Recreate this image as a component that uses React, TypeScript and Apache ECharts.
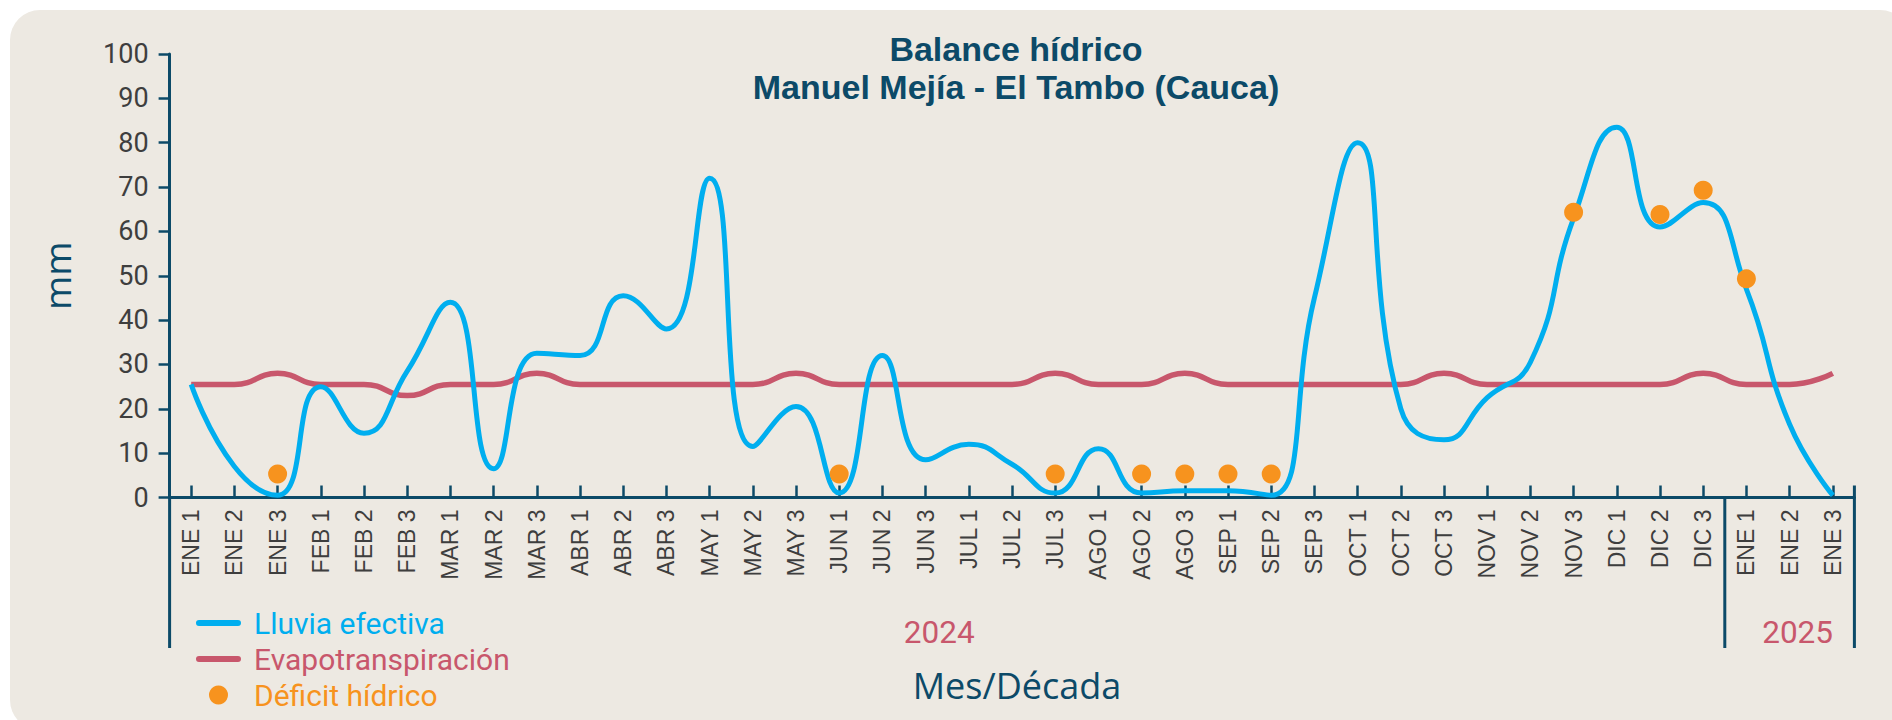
import React, { useEffect, useRef } from "react";
import * as echarts from "echarts";

const categories = [
  "ENE 1", "ENE 2", "ENE 3", "FEB 1", "FEB 2", "FEB 3", "MAR 1", "MAR 2", "MAR 3",
  "ABR 1", "ABR 2", "ABR 3", "MAY 1", "MAY 2", "MAY 3", "JUN 1", "JUN 2", "JUN 3",
  "JUL 1", "JUL 2", "JUL 3", "AGO 1", "AGO 2", "AGO 3", "SEP 1", "SEP 2", "SEP 3",
  "OCT 1", "OCT 2", "OCT 3", "NOV 1", "NOV 2", "NOV 3", "DIC 1", "DIC 2", "DIC 3",
  "ENE 1", "ENE 2", "ENE 3",
];

const lluviaEfectiva = [
  25.5, 7, 0.5, 25, 14.5, 28.5, 44, 6.5, 32.5,
  32, 45.5, 38, 72, 11.5, 20.5, 1, 32, 8.5,
  12, 7.5, 1, 11, 1, 1.5, 1.5, 0.5, 45,
  80, 20, 13, 22.5, 30.5, 63, 83.5, 61, 66.5,
  47, 16.5, 0.5,
];

const evapotranspiracion = [
  25.5, 25.5, 28, 25.5, 25.5, 23, 25.5, 25.5, 28,
  25.5, 25.5, 25.5, 25.5, 25.5, 28, 25.5, 25.5, 25.5,
  25.5, 25.5, 28, 25.5, 25.5, 28, 25.5, 25.5, 25.5,
  25.5, 25.5, 28, 25.5, 25.5, 25.5, 25.5, 25.5, 28,
  25.5, 25.5, 28,
];

const deficitHidrico: (number | null)[] = [
  null, null, 5.3, null, null, null, null, null, null,
  null, null, null, null, null, null, 5.3, null, null,
  null, null, 5.3, null, 5.3, 5.3, 5.3, 5.3, null,
  null, null, null, null, null, 64.3, null, 63.8, 69.3,
  49.3, null, null,
];

const yearLabels = ["2024", "2025"];
const yearCounts = [36, 3];
const yearLabelShift = [-8, 8];

const titleLines = ["Balance hídrico", "Manuel Mejía - El Tambo (Cauca)"];
const seriesNames = ["Lluvia efectiva", "Evapotranspiración", "Déficit hídrico"];

const C_BLUE = "#00AEEF";
const C_RED = "#C8576C";
const C_ORANGE = "#F7931E";
const C_NAVY = "#0C4A68";
const C_TEXT = "#3E3E3E";

const LINE_ICON = "path://M3,0 L42,0 A3,3 0 0 1 42,6 L3,6 A3,3 0 0 1 3,0 Z";

const titleStyle = {
  fontFamily: "Liberation Sans",
  fontWeight: "bold",
  fontSize: 34,
  lineHeight: 38,
  color: C_NAVY,
};

export default function App() {
  const ref = useRef<HTMLDivElement>(null);

  useEffect(() => {
    document.body.style.margin = "0";
    const chart = echarts.init(ref.current!, null, { renderer: "svg" });

    const option: any = {
      animation: false,
      title: [
        { text: titleLines[0], left: 1016, top: 29.5, padding: 0, textAlign: "center", textStyle: titleStyle },
        { text: titleLines[1], left: 1016, top: 67.8, padding: 0, textAlign: "center", textStyle: titleStyle },
      ],
      grid: { left: 169.6, right: 37.6, top: 54, bottom: 222.5, containLabel: false },
      legend: {
        orient: "vertical",
        left: 196,
        top: 608,
        height: 140,
        padding: 0,
        itemWidth: 45,
        itemHeight: 19,
        itemGap: 6,
        symbolKeepAspect: true,
        textStyle: {
          fontFamily: "Roboto",
          fontSize: 30,
          lineHeight: 30,
          padding: [0, 0, 0, 8],
        },
        data: [
          { name: seriesNames[0], icon: LINE_ICON, itemStyle: { color: C_BLUE }, textStyle: { color: C_BLUE } },
          { name: seriesNames[1], icon: LINE_ICON, itemStyle: { color: C_RED }, textStyle: { color: C_RED } },
          { name: seriesNames[2], icon: "circle", itemStyle: { color: C_ORANGE }, textStyle: { color: C_ORANGE } },
        ],
      },
      xAxis: {
        type: "category",
        data: categories,
        boundaryGap: true,
        name: "Mes/Década",
        nameLocation: "middle",
        nameGap: 170,
        nameTextStyle: {
          fontFamily: "Open Sans",
          fontSize: 36,
          color: C_NAVY,
          padding: [0, 0, 0, 10],
        },
        axisLine: { show: true, lineStyle: { color: C_NAVY, width: 3 } },
        axisTick: {
          show: true,
          inside: true,
          alignWithLabel: true,
          length: 12,
          lineStyle: { color: C_NAVY, width: 2.5 },
        },
        axisLabel: {
          rotate: 90,
          interval: 0,
          margin: 12,
          fontFamily: "Liberation Sans",
          fontSize: 23,
          color: C_TEXT,
        },
        splitLine: { show: false },
      },
      yAxis: {
        type: "value",
        min: 0,
        max: 100,
        interval: 10,
        name: "mm",
        nameLocation: "middle",
        nameGap: 95,
        nameTextStyle: { fontFamily: "Open Sans", fontSize: 37, color: C_NAVY },
        axisLine: { show: true, lineStyle: { color: C_NAVY, width: 3 } },
        axisTick: { show: true, length: 11, lineStyle: { color: C_NAVY, width: 2.5 } },
        axisLabel: { margin: 21, fontFamily: "Roboto", fontSize: 27, color: C_TEXT },
        splitLine: { show: false },
      },
      series: [
        {
          name: seriesNames[0],
          type: "line",
          data: lluviaEfectiva,
          smooth: 0.5,
          symbol: "none",
          lineStyle: { color: C_BLUE, width: 5 },
          itemStyle: { color: C_BLUE },
          z: 3,
        },
        {
          name: seriesNames[1],
          type: "line",
          data: evapotranspiracion,
          smooth: 0.5,
          symbol: "none",
          lineStyle: { color: C_RED, width: 5.5 },
          itemStyle: { color: C_RED },
          z: 2,
        },
        {
          name: seriesNames[2],
          type: "scatter",
          data: deficitHidrico.map((v, i) => (v == null ? null : [i, v])).filter((d) => d),
          symbol: "circle",
          symbolSize: 19,
          itemStyle: { color: C_ORANGE, opacity: 1 },
          z: 4,
        },
      ],
    };

    chart.setOption(option);

    const p0 = chart.convertToPixel({ xAxisIndex: 0 }, 0) as number;
    const p1 = chart.convertToPixel({ xAxisIndex: 0 }, 1) as number;
    const band = p1 - p0;
    const axisY = chart.convertToPixel({ yAxisIndex: 0 }, 0) as number;
    const leftX = p0 - band / 2;
    const bottomY = axisY + 150.5;

    const graphics: any[] = [];
    graphics.push({
      type: "line",
      shape: { x1: leftX, y1: axisY, x2: leftX, y2: bottomY },
      style: { stroke: C_NAVY, lineWidth: 3 },
    });
    let start = 0;
    yearLabels.forEach((lbl, k) => {
      const end = start + yearCounts[k];
      const xs = leftX + start * band;
      const xe = leftX + end * band;
      const isLast = k === yearLabels.length - 1;
      graphics.push({
        type: "line",
        shape: { x1: xe, y1: isLast ? axisY - 12 : axisY, x2: xe, y2: bottomY },
        style: { stroke: C_NAVY, lineWidth: 3 },
      });
      graphics.push({
        type: "text",
        x: (xs + xe) / 2 + yearLabelShift[k],
        y: axisY + 135,
        style: {
          text: lbl,
          align: "center",
          verticalAlign: "middle",
          fontFamily: "Roboto",
          fontSize: 31.5,
          fill: C_RED,
        },
      });
      start = end;
    });
    chart.setOption({ graphic: graphics });

    return () => chart.dispose();
  }, []);

  return (
    <div style={{ position: "relative", width: 1892, height: 720, background: "#FFFFFF", overflow: "hidden" }}>
      <div
        style={{
          position: "absolute",
          left: 10,
          top: 10,
          width: 1900,
          height: 720,
          borderRadius: 30,
          background: "#EDE9E2",
        }}
      />
      <div ref={ref} style={{ position: "absolute", left: 0, top: 0, width: 1892, height: 720 }} />
    </div>
  );
}
